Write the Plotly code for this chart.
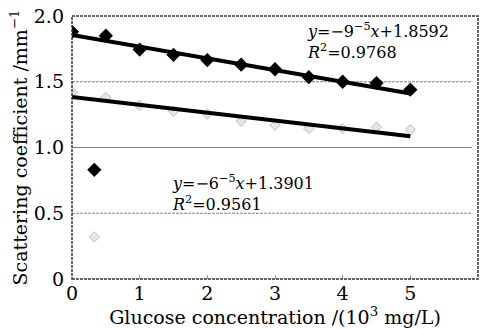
import plotly.graph_objects as go

conc = [0, 0.5, 1, 1.5, 2, 2.5, 3, 3.5, 4, 4.5, 5]
series_a = [1.88, 1.85, 1.745, 1.705, 1.665, 1.63, 1.595, 1.535, 1.50, 1.49, 1.44]
series_b = [1.42, 1.38, 1.32, 1.275, 1.255, 1.20, 1.17, 1.145, 1.145, 1.155, 1.135]
outlier_x = [0.33]
outlier_a = [0.83]
outlier_b = [0.32]
trend_x = [0, 5]
trend_a = [1.855, 1.41]
trend_b = [1.385, 1.085]
x_ticks = [0, 1, 2, 3, 4, 5, 6]
y_ticks = [0, 0.5, 1.0, 1.5, 2.0]
y_tick_text = ["0", "0.5", "1.0", "1.5", "2.0"]
eq_a = "<i>y</i>=−9<sup>−5</sup><i>x</i>+1.8592<br><i>R</i><sup>2</sup>=0.9768"
eq_b = "<i>y</i>=−6<sup>−5</sup><i>x</i>+1.3901<br><i>R</i><sup>2</sup>=0.9561"

FONT = "DejaVu Serif"
fig = go.Figure()
fig.add_trace(go.Scatter(x=conc + outlier_x, y=series_b + outlier_b, mode="markers",
                         marker=dict(symbol="diamond", size=8, color="#e6e6e6",
                                     line=dict(color="#bdbdbd", width=1))))
fig.add_trace(go.Scatter(x=trend_x, y=trend_b, mode="lines", line=dict(color="black", width=4)))
fig.add_trace(go.Scatter(x=trend_x, y=trend_a, mode="lines", line=dict(color="black", width=4)))
fig.add_trace(go.Scatter(x=conc + outlier_x, y=series_a + outlier_a, mode="markers",
                         marker=dict(symbol="diamond", size=11, color="black")))

for yv, dash in [(0.5, "3px,1px"), (1.5, "3px,1px"), (1.0, "solid")]:
    fig.add_shape(type="line", xref="paper", x0=0, x1=0.985, yref="y", y0=yv, y1=yv,
                  line=dict(color="#808080", width=1, dash=dash), layer="below")
fig.add_shape(type="rect", xref="paper", yref="paper", x0=0, x1=1, y0=0, y1=1,
              line=dict(color="#333", width=1.5, dash="3px,1px"))

fig.add_annotation(x=3.44, y=1.985, xanchor="left", yanchor="top", text=eq_a, showarrow=False,
                   align="left", font=dict(family=FONT, size=16, color="black"))
fig.add_annotation(x=1.45, y=0.83, xanchor="left", yanchor="top", text=eq_b, showarrow=False,
                   align="left", font=dict(family=FONT, size=16, color="black"))

fig.update_layout(
    width=483, height=329, margin=dict(l=72, r=5, t=12, b=50),
    paper_bgcolor="white", plot_bgcolor="white", showlegend=False,
    font=dict(family=FONT, size=18, color="black"),
    xaxis=dict(range=[0, 6], tickvals=x_ticks, showgrid=False, zeroline=False,
               ticks="inside", ticklen=4, tickcolor="#999", showline=False,
               tickfont=dict(family=FONT, size=19), ticklabelstandoff=1,
               title=dict(text="Glucose concentration /(10<sup>3</sup> mg/L)", standoff=0,
                          font=dict(family=FONT, size=19))),
    yaxis=dict(range=[0, 2.0], tickvals=y_ticks, ticktext=y_tick_text, showgrid=False,
               zeroline=False, showline=False, ticks="",
               tickfont=dict(family=FONT, size=19), ticklabelstandoff=7,
               title=dict(text="Scattering coefficient /mm<sup>−1</sup>", standoff=1,
                          font=dict(family=FONT, size=19))),
)
fig.write_html("out.html", post_script="document.body.style.margin='0';",
               config={"displayModeBar": False})
